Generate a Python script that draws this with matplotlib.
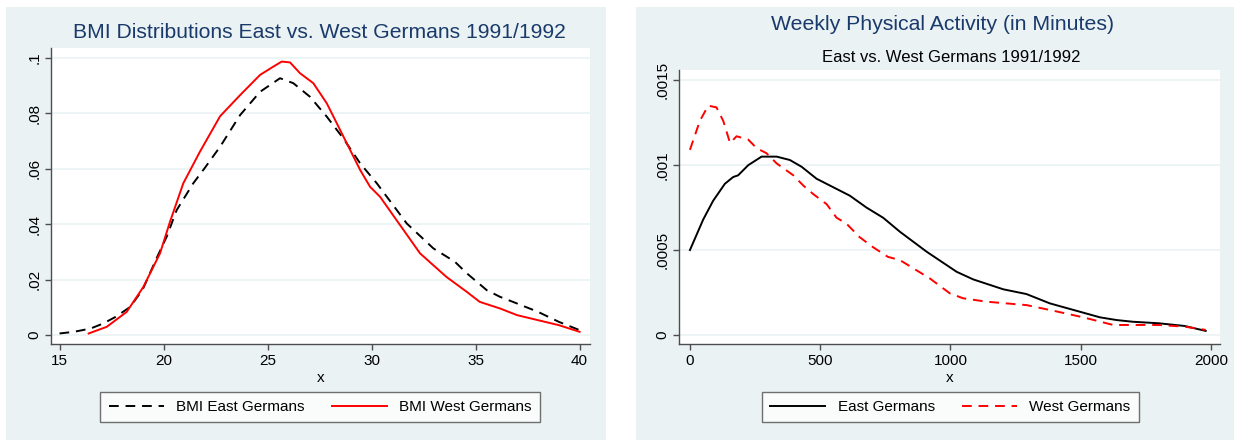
import matplotlib
matplotlib.use("Agg")
import matplotlib.pyplot as plt
from matplotlib.patches import Rectangle

plt.rcParams['font.family'] = ['Liberation Sans', 'DejaVu Sans']

# BMI kernel densities
bmi_east_x = [15.0, 15.7, 16.5, 17.1, 17.7, 18.4, 19.0, 19.7, 20.15, 20.63, 21.43,
              22.0, 22.72, 23.68, 24.64, 25.6, 26.24, 27.04, 27.85, 28.64, 29.45,
              30.25, 31.69, 32.97, 34.0, 34.58, 35.54, 36.18, 37, 38, 39, 40]
bmi_east_y = [0.0006, 0.0012, 0.0024, 0.0042, 0.0066, 0.0102, 0.0165, 0.0283,
              0.0355, 0.0451, 0.0548, 0.0605, 0.068, 0.0794, 0.0878, 0.0927,
              0.0909, 0.086, 0.0788, 0.071, 0.062, 0.0548, 0.0403, 0.0313,
              0.0265, 0.0223, 0.0162, 0.0138, 0.0114, 0.0084, 0.0048, 0.0018]
bmi_west_x = [16.4, 17.27, 18.23, 19.03, 19.83, 20.31, 20.95, 21.75, 22.72, 23.68,
              24.64, 25.28, 25.68, 26.08, 26.56, 27.2, 27.85, 28.49, 28.97, 29.45,
              29.93, 30.41, 31.2, 32.33, 33.6, 34.58, 35.2, 36.18, 37, 38, 39, 40]
bmi_west_y = [0.0006, 0.003, 0.0084, 0.0174, 0.0295, 0.0409, 0.0548, 0.0662,
              0.079, 0.0866, 0.0939, 0.0969, 0.0987, 0.0984, 0.0945, 0.0909,
              0.0836, 0.074, 0.0668, 0.0596, 0.0535, 0.0499, 0.0415, 0.0295,
              0.021, 0.0156, 0.012, 0.0096, 0.0072, 0.0054, 0.0036, 0.0012]

# weekly physical activity densities
act_east_x = [0, 51, 89, 134, 166, 185, 224, 275, 333, 384, 429, 486, 550, 614,
              678, 742, 806, 909, 1024, 1088, 1203, 1292, 1382, 1497, 1574, 1638,
              1700, 1800, 1900, 1980]
act_east_y = [0.0005, 0.00068, 0.00079, 0.00089, 0.00093, 0.00094, 0.001,
              0.00105, 0.00105, 0.00103, 0.00099, 0.00092, 0.00087, 0.00082,
              0.00075, 0.00069, 0.000608, 0.00049, 0.000372, 0.000327, 0.000269,
              0.000241, 0.000186, 0.000137, 0.000104, 0.000088, 0.000078,
              0.000069, 0.000053, 0.000024]
act_west_x = [0, 38, 70, 102, 128, 154, 179, 224, 256, 294, 333, 397, 435, 473,
              525, 563, 600, 650, 700, 760, 806, 921, 998, 1049, 1139, 1292, 1395,
              1510, 1625, 1700, 1800, 1900, 1980]
act_west_y = [0.00109, 0.00126, 0.00135, 0.00134, 0.00126, 0.00113, 0.00117,
              0.00115, 0.0011, 0.00107, 0.00101, 0.00094, 0.00088, 0.00083,
              0.00077, 0.00069, 0.000657, 0.000578, 0.00052, 0.00046, 0.000441,
              0.000333, 0.000245, 0.000216, 0.000196, 0.000176, 0.000143,
              0.000104, 0.000059, 0.000059, 0.000059, 0.000049, 0.00003]

bmi_xticks = [15, 20, 25, 30, 35, 40]
bmi_yticks = [0, 0.02, 0.04, 0.06, 0.08, 0.1]
bmi_ylabels = ['0', '.02', '.04', '.06', '.08', '.1']
act_xticks = [0, 500, 1000, 1500, 2000]
act_yticks = [0, 0.0005, 0.001, 0.0015]
act_ylabels = ['0', '.0005', '.001', '.0015']

BG = '#eaf2f3'
NAVY = '#1a3a6b'
AXC = '#4d4d4d'
W, H = 1234, 440

fig = plt.figure(figsize=(W / 100, H / 100), dpi=100)
fig.patch.set_facecolor('white')

# grey panel backgrounds
fig.add_artist(Rectangle((6 / W, 0), 600 / W, 1 - 7 / H, transform=fig.transFigure,
                         facecolor=BG, edgecolor='none', zorder=0))
fig.add_artist(Rectangle((636 / W, 0), 598 / W, 1 - 7 / H, transform=fig.transFigure,
                         facecolor=BG, edgecolor='none', zorder=0))


def style_axes(ax, xticks, yticks, ylabels):
    ax.set_facecolor('white')
    for s in ['top', 'right']:
        ax.spines[s].set_visible(False)
    for s in ['left', 'bottom']:
        ax.spines[s].set_color(AXC)
        ax.spines[s].set_linewidth(1.0)
    ax.set_xticks(xticks)
    ax.set_yticks(yticks)
    ax.set_yticklabels(ylabels, rotation=90, va='center')
    ax.tick_params(length=4, width=1, color=AXC, labelsize=11, pad=3)
    ax.grid(axis='y', color=BG, lw=1.2)
    ax.set_axisbelow(True)
    ax.set_xlabel('x', fontsize=11, labelpad=2)


def add_legend(ax, cx):
    leg = fig.legend(handles=ax.get_lines(), loc='center', ncol=2,
                     bbox_to_anchor=(cx / W, 1 - 407 / H), fontsize=11,
                     frameon=True, fancybox=False, edgecolor=AXC,
                     handlelength=3.6, handletextpad=0.8, columnspacing=1.8,
                     borderpad=0.55)
    leg.get_frame().set_linewidth(1.0)
    return leg


# left: BMI
ax1 = fig.add_axes([51 / W, 1 - 344 / H, 539 / W, 296 / H])
ax1.plot(bmi_east_x, bmi_east_y, color='black', lw=1.4, ls=(0, (5, 3.5)),
         label='BMI East Germans')
ax1.plot(bmi_west_x, bmi_west_y, color='red', lw=1.4, label='BMI West Germans')
ax1.set_xlim(14.59, 40.5)
ax1.set_ylim(-0.0032, 0.1036)
style_axes(ax1, bmi_xticks, bmi_yticks, bmi_ylabels)
fig.text(319.5 / W, 1 - 33 / H, 'BMI Distributions East vs. West Germans 1991/1992',
         ha='center', va='center', fontsize=15.2, color=NAVY)
add_legend(ax1, 320)

# right: physical activity
ax2 = fig.add_axes([679 / W, 1 - 344 / H, 541 / W, 274 / H])
ax2.plot(act_east_x, act_east_y, color='black', lw=1.4, label='East Germans')
ax2.plot(act_west_x, act_west_y, color='red', lw=1.4, ls=(0, (5, 3.5)),
         label='West Germans')
ax2.set_xlim(-42, 2035)
ax2.set_ylim(-0.000053, 0.00156)
style_axes(ax2, act_xticks, act_yticks, act_ylabels)
fig.text(943 / W, 1 - 25 / H, 'Weekly Physical Activity (in Minutes)',
         ha='center', va='center', fontsize=15.3, color=NAVY)
fig.text(951 / W, 1 - 58 / H, 'East vs. West Germans 1991/1992',
         ha='center', va='center', fontsize=12, color='black')
add_legend(ax2, 950.5)

fig.savefig('out.png', dpi=100)
